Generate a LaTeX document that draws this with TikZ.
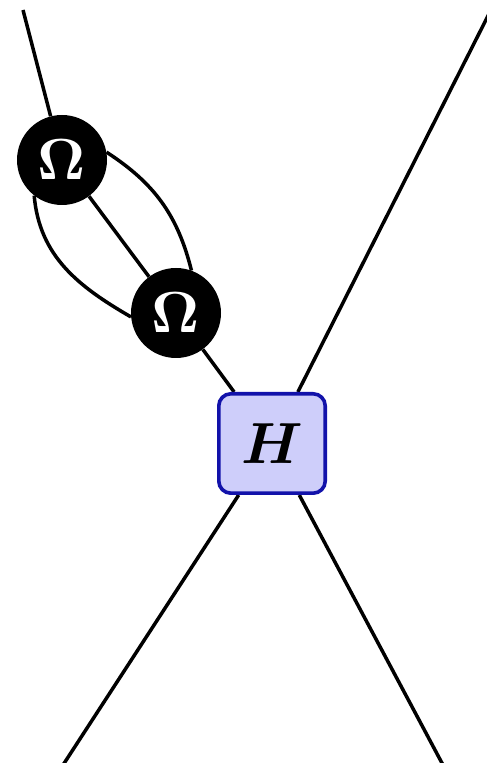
\documentclass[tikz,border=0pt]{standalone}
\usepackage{graphicx}
\usetikzlibrary{backgrounds}
\definecolor{hfill}{RGB}{206,206,250}
\definecolor{hdraw}{RGB}{18,18,170}
\tikzset{
  omega/.style={circle, fill=black, minimum size=90pt, inner sep=0pt, text=white},
  hbox/.style={draw=hdraw, fill=hfill, line width=3.6pt, rounded corners=12pt,
    minimum width=106.4pt, minimum height=99.4pt, inner sep=0pt},
  wire/.style={line width=3.5pt, black}
}
\begin{document}
\begin{tikzpicture}[x=1pt,y=1pt]
\useasboundingbox (0,0) rectangle (487,763);
\clip (0,0) rectangle (487,763);
\node[omega] (o1) at (62,603) {\scalebox{5.8}{$\mathbf{\Omega}$}};
\node[omega] (o2) at (176,450) {\scalebox{5.8}{$\mathbf{\Omega}$}};
\node[hbox] (H) at (272,319.5) {\scalebox{5.8}{\boldmath$H$}};
\coordinate (tl) at (23,753);
\coordinate (tr) at (496,763);
\coordinate (bl) at (63,-2);
\coordinate (br) at (443,-2);
\begin{pgfonlayer}{background}
\draw[wire] (tl) -- (o1);
\draw[wire] (o1) -- (o2);
\draw[wire] (o2) -- (H);
\draw[wire] (H) -- (tr);
\draw[wire] (H) -- (bl);
\draw[wire] (H) -- (br);
\draw[wire] (o1.10) to[out=-33, in=104] (o2.70);
\draw[wire] (o1.-128) to[out=-85, in=150] (o2.185);
\end{pgfonlayer}
\end{tikzpicture}
\end{document}
